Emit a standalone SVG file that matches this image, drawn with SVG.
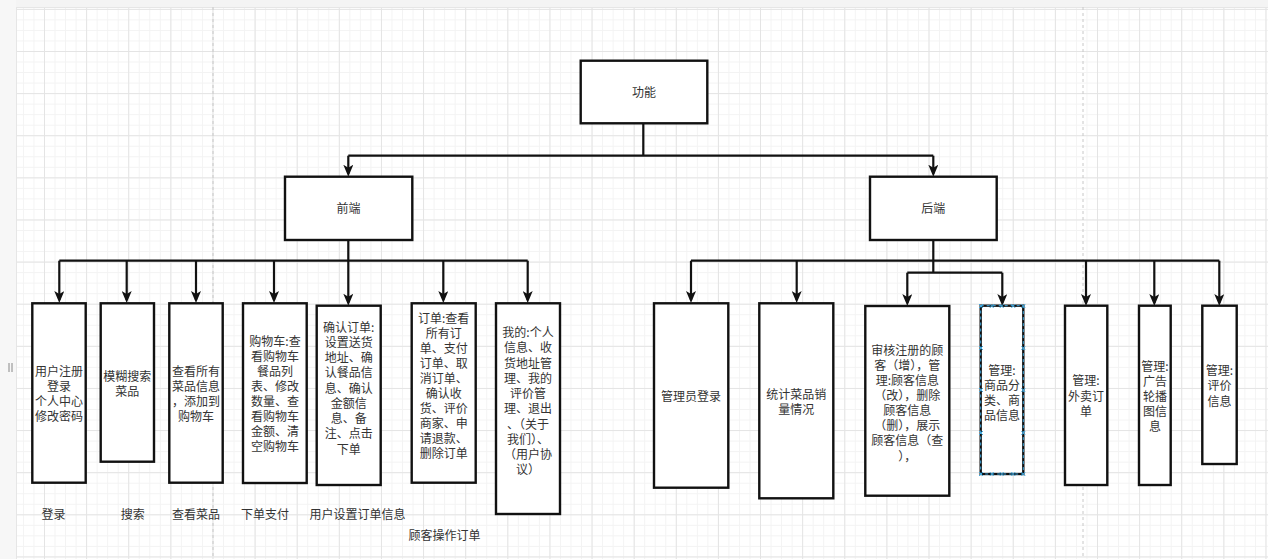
<svg xmlns="http://www.w3.org/2000/svg" width="1268" height="559" viewBox="0 0 1268 559">
<defs>
<pattern id="minor" patternUnits="userSpaceOnUse" x="1.88" y="8.88" width="10.53" height="10.53">
<path d="M0,0.5 H10.53 M0.5,0 V10.53" fill="none" stroke="#f3f3f3" stroke-width="1"/>
</pattern>
<pattern id="major" patternUnits="userSpaceOnUse" x="1.88" y="8.88" width="42.12" height="42.12">
<path d="M0,0.5 H42.12 M0.5,0 V42.12" fill="none" stroke="#e4e4e4" stroke-width="1"/>
</pattern>
<marker id="arr" markerUnits="userSpaceOnUse" viewBox="0 0 12 10" markerWidth="12" markerHeight="10" refX="9" refY="5" orient="auto">
<path d="M0,0 L12,5 L0,10 L3,5 z" fill="#111"/>
</marker>
</defs>
<style>
.box{fill:#fff;stroke:#111;stroke-width:2.4}
.t{font-family:"Noto Sans CJK SC","Noto Sans",sans-serif;font-size:12px;fill:#333;text-anchor:middle}
.c{fill:none;stroke:#111;stroke-width:2.2}
.a{fill:none;stroke:#111;stroke-width:2.2;marker-end:url(#arr)}
.h{fill:none;stroke:#3fa9e0;stroke-width:1}
</style>
<rect width="1268" height="559" fill="#fff"/>
<rect x="16" y="7" width="1252" height="552" fill="url(#minor)"/>
<rect x="16" y="7" width="1252" height="552" fill="url(#major)"/>
<rect x="0" y="0" width="1268" height="7" fill="#f4f4f4"/>
<line x1="0" y1="7.5" x2="1268" y2="7.5" stroke="#e6e6e6"/>
<rect x="0" y="0" width="16" height="559" fill="#f7f7f7"/>
<line x1="16.5" y1="7" x2="16.5" y2="559" stroke="#e6e6e6"/>
<line x1="213" y1="7" x2="213" y2="559" stroke="#c8c8c8" stroke-dasharray="3,3"/>
<line x1="1083" y1="7" x2="1083" y2="559" stroke="#c8c8c8" stroke-dasharray="3,3"/>
<path d="M9,363 V372 M12,363 V372" stroke="#888" stroke-width="1"/>

<g id="connectors">
<path class="c" d="M643.3,123.3 V155.7 M348.3,155.7 H933.3"/>
<path class="a" d="M348.3,155.7 V173.7"/>
<path class="a" d="M933.3,155.7 V173.7"/>
<path class="c" d="M348.3,240 V260.7 M59.3,260.7 H527.7"/>
<path class="a" d="M59.3,260.7 V300"/>
<path class="a" d="M126.7,260.7 V300"/>
<path class="a" d="M196,260.7 V300"/>
<path class="a" d="M274,260.7 V300"/>
<path class="a" d="M348.3,260.7 V302.7"/>
<path class="a" d="M443.3,260.7 V300"/>
<path class="a" d="M527.7,260.7 V300"/>
<path class="c" d="M933.3,240 V272.7 M691,260.7 H1219.3 M907.3,272.7 H1002.3"/>
<path class="a" d="M691,260.7 V300"/>
<path class="a" d="M796.7,260.7 V300"/>
<path class="a" d="M907.3,272.7 V303"/>
<path class="a" d="M1002.3,272.7 V303"/>
<path class="a" d="M1086,260.7 V303"/>
<path class="a" d="M1154.3,260.7 V303"/>
<path class="a" d="M1219.3,260.7 V303"/>
</g>

<g id="n-root"><rect class="box" x="580.7" y="60.7" width="126.6" height="62.6"/><text class="t" x="644" y="96.5">功能</text></g>
<g id="n-front"><rect class="box" x="285" y="176.7" width="127.3" height="63.3"/><text class="t" x="348.5" y="212.5">前端</text></g>
<g id="n-back"><rect class="box" x="870" y="176.7" width="126.7" height="63.3"/><text class="t" x="933.3" y="212.5">后端</text></g>

<g id="n-f1"><rect class="box" x="32.3" y="303.3" width="53.4" height="179.4"/>
<text class="t" x="59" y="375.5">用户注册</text><text class="t" x="59" y="390.5">登录</text><text class="t" x="59" y="405.5">个人中心</text><text class="t" x="59" y="420.5">修改密码</text></g>
<g id="n-f2"><rect class="box" x="100.7" y="303.3" width="53.3" height="158.4"/>
<text class="t" x="127.3" y="380.5">模糊搜索</text><text class="t" x="127.3" y="395.5">菜品</text></g>
<g id="n-f3"><rect class="box" x="169.3" y="303.3" width="53.4" height="179.4"/>
<text class="t" x="196" y="375.5">查看所有</text><text class="t" x="196" y="390.5">菜品信息</text><text class="t" x="196" y="405.5">，添加到</text><text class="t" x="196" y="420.5">购物车</text></g>
<g id="n-f4"><rect class="box" x="243" y="303.3" width="63.7" height="179.7"/>
<text class="t" x="275" y="346">购物车:查</text><text class="t" x="275" y="361">看购物车</text><text class="t" x="275" y="376">餐品列</text><text class="t" x="275" y="391">表、修改</text><text class="t" x="275" y="406">数量、查</text><text class="t" x="275" y="421">看购物车</text><text class="t" x="275" y="436">金额、清</text><text class="t" x="275" y="451">空购物车</text></g>
<g id="n-f5"><rect class="box" x="316.7" y="305.7" width="64" height="179.3"/>
<text class="t" x="348.7" y="331.5">确认订单:</text><text class="t" x="348.7" y="346.75">设置送货</text><text class="t" x="348.7" y="362">地址、确</text><text class="t" x="348.7" y="377.25">认餐品信</text><text class="t" x="348.7" y="392.5">息、确认</text><text class="t" x="348.7" y="407.75">金额信</text><text class="t" x="348.7" y="423">息、备</text><text class="t" x="348.7" y="438.25">注、点击</text><text class="t" x="348.7" y="453.5">下单</text></g>
<g id="n-f6"><rect class="box" x="411.7" y="303.3" width="64" height="179.4"/>
<text class="t" x="443.7" y="322.5">订单:查看</text><text class="t" x="443.7" y="337.6">所有订</text><text class="t" x="443.7" y="352.7">单、支付</text><text class="t" x="443.7" y="367.8">订单、取</text><text class="t" x="443.7" y="382.9">消订单、</text><text class="t" x="443.7" y="398">确认收</text><text class="t" x="443.7" y="413.1">货、评价</text><text class="t" x="443.7" y="428.2">商家、申</text><text class="t" x="443.7" y="443.3">请退款、</text><text class="t" x="443.7" y="458.4">删除订单</text></g>
<g id="n-f7"><rect class="box" x="496" y="303.3" width="64" height="210.7"/>
<text class="t" x="528" y="337">我的:个人</text><text class="t" x="528" y="352.25">信息、收</text><text class="t" x="528" y="367.5">货地址管</text><text class="t" x="528" y="382.75">理、我的</text><text class="t" x="528" y="398">评价管</text><text class="t" x="528" y="413.25">理、退出</text><text class="t" x="528" y="428.5">、（关于</text><text class="t" x="528" y="443.75">我们）、</text><text class="t" x="528" y="459">（用户协</text><text class="t" x="528" y="474.25">议）</text></g>

<g id="n-b1"><rect class="box" x="654" y="303.3" width="74.3" height="184.4"/>
<text class="t" x="691" y="401">管理员登录</text></g>
<g id="n-b2"><rect class="box" x="759.3" y="303.3" width="74" height="195"/>
<text class="t" x="796.3" y="399">统计菜品销</text><text class="t" x="796.3" y="414">量情况</text></g>
<g id="n-b3"><rect class="box" x="865.3" y="306" width="84" height="189.7"/>
<text class="t" x="907.3" y="354.5">审核注册的顾</text><text class="t" x="907.3" y="369.6">客（增），管</text><text class="t" x="907.3" y="384.8">理:顾客信息</text><text class="t" x="907.3" y="399.9">（改），删除</text><text class="t" x="907.3" y="415">顾客信息</text><text class="t" x="907.3" y="430.2">（删），展示</text><text class="t" x="907.3" y="445.3">顾客信息（查</text><text class="t" x="907.3" y="460.5">），</text></g>
<g id="n-b4"><rect class="box" x="980.7" y="305.7" width="42.6" height="168.3"/>
<text class="t" x="1002" y="374.5">管理:</text><text class="t" x="1002" y="389.5">商品分</text><text class="t" x="1002" y="404.5">类、商</text><text class="t" x="1002" y="419.5">品信息</text>
<rect x="980.7" y="305.7" width="42.6" height="168.3" fill="none" stroke="#3fa9e0" stroke-width="1" stroke-dasharray="3,3"/>
<path class="h" d="M979,304 l4,4 m0,-4 l-4,4 M989.7,304 l4,4 m0,-4 l-4,4 M999.7,304 l4,4 m0,-4 l-4,4 M1011.3,304 l4,4 m0,-4 l-4,4 M1021.3,304 l4,4 m0,-4 l-4,4 M979,472 l4,4 m0,-4 l-4,4 M989.7,472 l4,4 m0,-4 l-4,4 M999.7,472 l4,4 m0,-4 l-4,4 M1011.3,472 l4,4 m0,-4 l-4,4 M1021.3,472 l4,4 m0,-4 l-4,4 M979,346 l4,4 m0,-4 l-4,4 M979,388 l4,4 m0,-4 l-4,4 M979,431 l4,4 m0,-4 l-4,4 M1021.3,346 l4,4 m0,-4 l-4,4 M1021.3,388 l4,4 m0,-4 l-4,4 M1021.3,431 l4,4 m0,-4 l-4,4"/></g>
<g id="n-b5"><rect class="box" x="1065" y="305.7" width="42.3" height="179.3"/>
<text class="t" x="1086" y="385">管理:</text><text class="t" x="1086" y="400.5">外卖订</text><text class="t" x="1086" y="416">单</text></g>
<g id="n-b6"><rect class="box" x="1139" y="305.7" width="31.7" height="179.3"/>
<text class="t" x="1155" y="370.5">管理:</text><text class="t" x="1155" y="385.5">广告</text><text class="t" x="1155" y="400.5">轮播</text><text class="t" x="1155" y="415.5">图信</text><text class="t" x="1155" y="430.5">息</text></g>
<g id="n-b7"><rect class="box" x="1202.3" y="305.7" width="34.4" height="158.3"/>
<text class="t" x="1219.5" y="374.5">管理:</text><text class="t" x="1219.5" y="390">评价</text><text class="t" x="1219.5" y="405.5">信息</text></g>

<g id="labels">
<text class="t" x="53.5" y="518.5">登录</text>
<text class="t" x="132.7" y="518.5">搜索</text>
<text class="t" x="196" y="518.5">查看菜品</text>
<text class="t" x="265" y="518.5">下单支付</text>
<text class="t" x="357.5" y="518.5">用户设置订单信息</text>
<text class="t" x="444.5" y="539.5">顾客操作订单</text>
</g>
</svg>
